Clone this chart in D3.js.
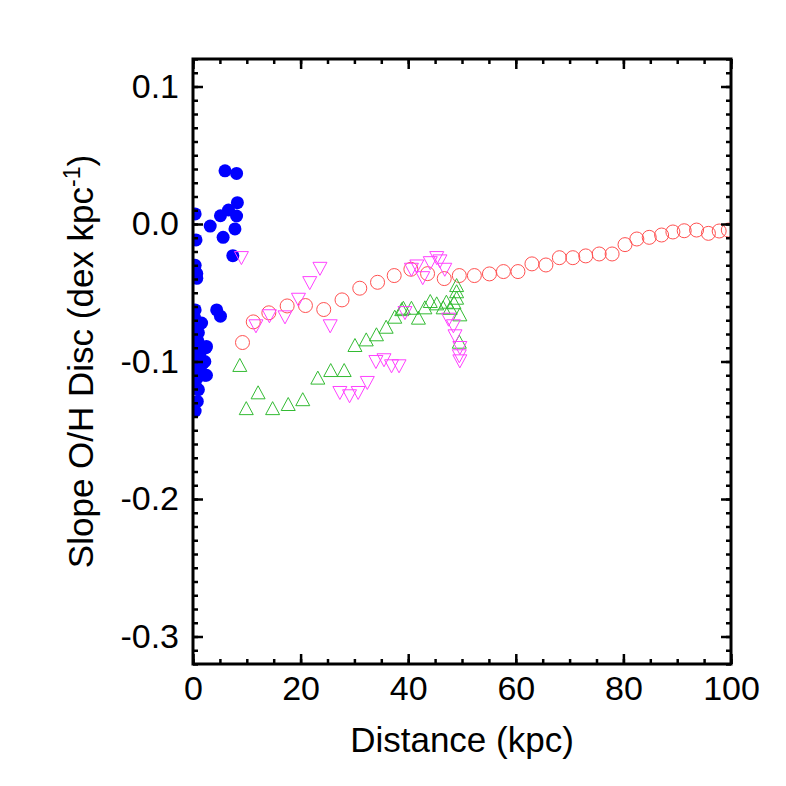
<!DOCTYPE html>
<html lang="en">
<head>
    <meta charset="UTF-8">
    <title>Slope O/H Disc vs Distance</title>
    <script type="text/javascript" src="https://cdn.jsdelivr.net/npm/d3@7"></script>
    <style type="text/css">
        body { margin: 0; background: white; }
        text { font-family: "Liberation Sans", Arial, sans-serif; fill: black; }
    </style>
</head>
<body>
    <script type="text/javascript">
        // blue filled circles (x kpc, slope)
        var blueX = [5.95, 8.1, 8.25, 6.6, 8.1, 5.1, 0.4, 3.2, 7.8, 5.6, 0.56, 7.4, 0.4, 0.7, 0.7, 4.4, 5.1,
                     0.4, 1.6, 1.0, 2.4, 1.3, 1.9, 2.2, 0.7, 1.0, 0.8, 0.4, 2.5, 2.2, 2.5, 0.3, 0.5, 0.2, 0.9,
                     1.2, 0.3, 0.6, 1.4, 0.2, 0.5, 0.8, 1.1, 0.3];
        var blueY = [0.0387, 0.0368, 0.0155, 0.0102, 0.0058, 0.006, 0.0073, -0.0015, -0.0036, -0.0097, -0.0116,
                     -0.023, -0.030, -0.036, -0.0395, -0.0625, -0.067,
                     -0.0625, -0.072, -0.079, -0.090, -0.094, -0.101, -0.110, -0.104, -0.1205, -0.129, -0.136,
                     -0.089, -0.100, -0.110, -0.068, -0.075, -0.083, -0.085, -0.097, -0.092, -0.107, -0.106,
                     -0.115, -0.118, -0.112, -0.098, -0.033];

        // red open circles
        var redX = [9.2, 11.2, 14.1, 17.5, 20.9, 24.3, 27.7, 31.0, 34.3, 37.4, 40.5, 43.6, 46.7, 49.5, 52.3,
                    55.1, 57.7, 60.4, 63.0, 65.6, 68.1, 70.6, 73.0, 75.5, 77.9, 80.3, 82.5, 84.8, 87.1, 89.2,
                    91.3, 93.6, 95.8, 97.8, 99.5];
        var redY = [-0.0862, -0.0712, -0.0646, -0.0596, -0.0593, -0.0622, -0.0552, -0.0467, -0.0424, -0.0375,
                    -0.0329, -0.0361, -0.0397, -0.0375, -0.0375, -0.0363, -0.0346, -0.0346, -0.029, -0.0298,
                    -0.0245, -0.0245, -0.0232, -0.0218, -0.0218, -0.015, -0.0109, -0.0097, -0.008, -0.0058,
                    -0.0049, -0.0044, -0.0068, -0.0051, -0.0044];

        // green up-triangles
        var greenX = [8.7, 12.1, 9.9, 14.8, 17.7, 20.4, 23.2, 25.6, 28.1, 30.1, 32.2, 34.1, 35.9, 37.5, 39.1,
                      40.6, 41.9, 43.1, 44.1, 45.3, 46.5, 47.1, 47.8, 49.0, 49.0, 49.0, 49.6, 49.5, 38.8, 48.5];
        var greenY = [-0.1036, -0.1235, -0.135, -0.135, -0.132, -0.1285, -0.1128, -0.1073, -0.1073, -0.0891,
                      -0.085, -0.0813, -0.0758, -0.0685, -0.062, -0.062, -0.0692, -0.0617, -0.0571, -0.0588,
                      -0.0617, -0.0576, -0.062, -0.0547, -0.0455, -0.050, -0.0668, -0.0867, -0.063, -0.058];

        // magenta down-triangles
        var magX = [9.0, 23.6, 21.7, 19.6, 17.1, 14.2, 11.7, 25.5, 27.3, 29.1, 30.7, 32.4, 34.0, 35.5, 36.9,
                    38.3, 39.4, 40.6, 41.6, 42.7, 44.1, 45.3, 45.9, 46.8, 47.5, 48.4, 48.7, 49.6, 49.5, 49.6];
        var magY = [-0.0237, -0.0315, -0.0419, -0.054, -0.0668, -0.066, -0.0733, -0.0733, -0.1218, -0.1242,
                    -0.1218, -0.1145, -0.0993, -0.098, -0.1024, -0.1024, -0.0637, -0.0322, -0.0298, -0.0383,
                    -0.0274, -0.0237, -0.0261, -0.0322, -0.0685, -0.0733, -0.0806, -0.0891, -0.0951, -0.0988];

        var xTickValues = [0, 20, 40, 60, 80, 100];
        var yTickValues = [0.1, 0.0, -0.1, -0.2, -0.3];
        var xTickLabels = ["0", "20", "40", "60", "80", "100"];
        var yTickLabels = ["0.1", "0.0", "-0.1", "-0.2", "-0.3"];

        var width = 786;
        var height = 786;
        var plotLeft = 193, plotRight = 731, plotTop = 59, plotBottom = 664;

        var zip = function(xs, ys) { return xs.map(function(x, i) { return {x: x, y: ys[i]}; }); };

        var scaleX = d3.scaleLinear().domain([0, 100]).range([plotLeft, plotRight]);
        var scaleY = d3.scaleLinear().domain([-0.32, 0.12]).range([plotBottom, plotTop]);

        var svg = d3.select('body')
            .append('svg')
            .attr('width', width)
            .attr('height', height);

        svg.append('defs').append('clipPath')
            .attr('id', 'plot-area')
            .append('rect')
            .attr('x', plotLeft).attr('y', plotTop)
            .attr('width', plotRight - plotLeft).attr('height', plotBottom - plotTop);

        var plot = svg.append('g').attr('clip-path', 'url(#plot-area)');

        // blue dots
        plot.append('g').selectAll('circle')
            .data(zip(blueX, blueY))
            .enter()
            .append('circle')
            .attr('cx', function(d) { return scaleX(d.x); })
            .attr('cy', function(d) { return scaleY(d.y); })
            .attr('r', 6.5)
            .attr('fill', '#0000ff');

        // red circles
        plot.append('g').selectAll('circle')
            .data(zip(redX, redY))
            .enter()
            .append('circle')
            .attr('cx', function(d) { return scaleX(d.x); })
            .attr('cy', function(d) { return scaleY(d.y); })
            .attr('r', 7)
            .attr('fill', 'none')
            .attr('stroke', '#ff5050')
            .attr('stroke-width', 1);

        var triUp = "M0,-8L7,5L-7,5Z";
        var triDown = "M0,8L7,-5L-7,-5Z";

        plot.append('g').selectAll('path')
            .data(zip(greenX, greenY))
            .enter()
            .append('path')
            .attr('d', triUp)
            .attr('transform', function(d) { return `translate(${scaleX(d.x)},${scaleY(d.y)})`; })
            .attr('fill', 'none')
            .attr('stroke', '#33bb33')
            .attr('stroke-width', 1);

        plot.append('g').selectAll('path')
            .data(zip(magX, magY))
            .enter()
            .append('path')
            .attr('d', triDown)
            .attr('transform', function(d) { return `translate(${scaleX(d.x)},${scaleY(d.y)})`; })
            .attr('fill', 'none')
            .attr('stroke', '#ff40ff')
            .attr('stroke-width', 1);

        // axes, ticks pointing inward on all four sides
        var minorX = d3.range(0, 101, 5);
        var minorY = d3.range(-32, 13, 1).map(function(v) { return v / 100; });

        var addAxis = function(axisFn, scale, transform, minor, major, labels, showLabels, pad) {
            var g1 = svg.append('g').attr('transform', transform)
                .call(axisFn(scale).tickValues(minor).tickSize(-5).tickFormat(''));
            g1.select('.domain').remove();
            g1.selectAll('line').attr('stroke-width', 2.5);
            var g2 = svg.append('g').attr('transform', transform)
                .call(axisFn(scale).tickValues(major).tickSize(-10).tickPadding(pad)
                    .tickFormat(function(d, i) { return showLabels ? labels[i] : ''; }));
            g2.select('.domain').remove();
            g2.selectAll('line').attr('stroke-width', 2.5);
            g2.attr('font-size', 34).attr('font-family', '"Liberation Sans", Arial, sans-serif');
            return g2;
        };

        addAxis(d3.axisBottom, scaleX, `translate(0,${plotBottom})`, minorX, xTickValues, xTickLabels, true, 12);
        addAxis(d3.axisTop, scaleX, `translate(0,${plotTop})`, minorX, xTickValues, xTickLabels, false, 12);
        addAxis(d3.axisLeft, scaleY, `translate(${plotLeft},0)`, minorY, yTickValues, yTickLabels, true, 14);
        addAxis(d3.axisRight, scaleY, `translate(${plotRight},0)`, minorY, yTickValues, yTickLabels, false, 14);

        svg.append('rect')
            .attr('x', plotLeft).attr('y', plotTop)
            .attr('width', plotRight - plotLeft).attr('height', plotBottom - plotTop)
            .attr('fill', 'none')
            .attr('stroke', 'black')
            .attr('stroke-width', 3);

        svg.append('text')
            .attr('x', (plotLeft + plotRight) / 2)
            .attr('y', 752)
            .attr('text-anchor', 'middle')
            .style('font-size', '35px')
            .text('Distance (kpc)');

        var yLabel = svg.append('text')
            .attr('transform', `translate(93,${(plotTop + plotBottom) / 2}) rotate(-90)`)
            .attr('text-anchor', 'middle')
            .style('font-size', '35px');
        yLabel.append('tspan').text('Slope O/H Disc (dex kpc');
        yLabel.append('tspan').attr('dy', -13).style('font-size', '23px').text('-1');
        yLabel.append('tspan').attr('dy', 13).text(')');
    </script>
</body>
</html>
